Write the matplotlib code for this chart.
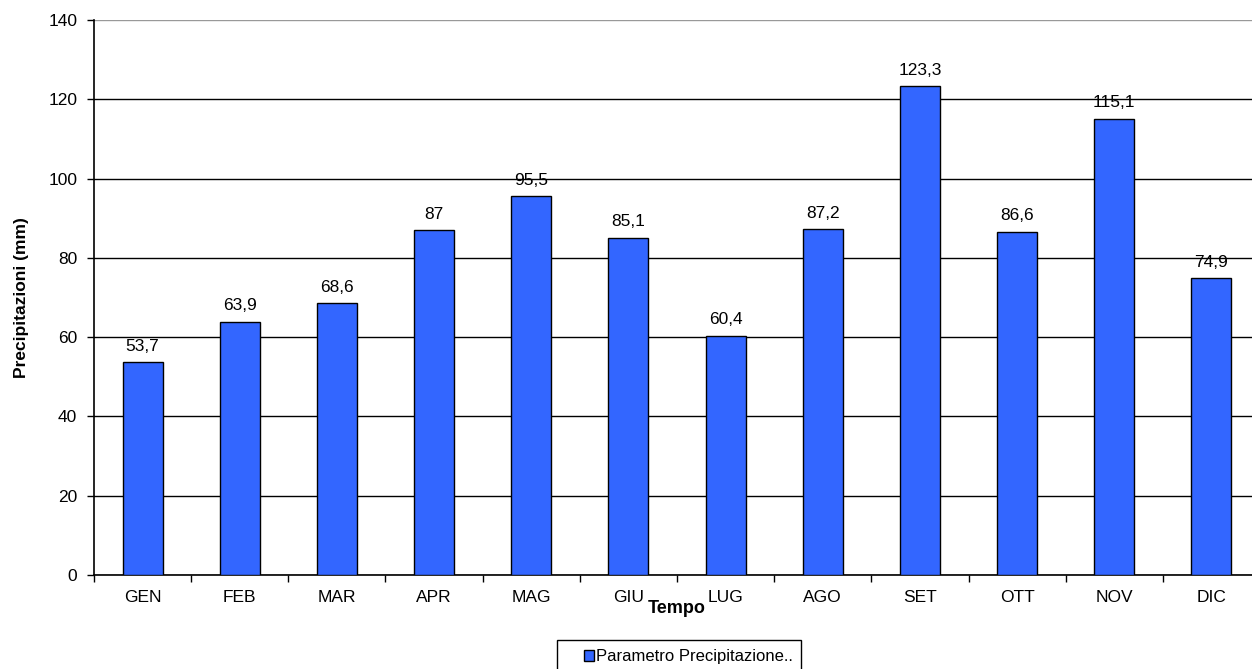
import numpy as np
import matplotlib.pyplot as plt
from matplotlib.patches import Patch, Rectangle

plt.rcParams['font.family'] = ['Liberation Sans', 'DejaVu Sans']

mesi = ['GEN', 'FEB', 'MAR', 'APR', 'MAG', 'GIU', 'LUG', 'AGO', 'SET', 'OTT', 'NOV', 'DIC']
pioggia = [53.7, 63.9, 68.6, 87, 95.5, 85.1, 60.4, 87.2, 123.3, 86.6, 115.1, 74.9]
yticks = [0, 20, 40, 60, 80, 100, 120, 140]

colore = '#3366FF'
W, H = 1252, 669

fig = plt.figure(figsize=(W/100, H/100), dpi=100)
# l'area del grafico continua oltre il bordo destro
ax = fig.add_axes([94/W, 1-575/H, 1166/W, 555/H])

x = np.arange(len(mesi))
ax.bar(x, pioggia, width=0.41, color=colore, edgecolor='black', linewidth=1, zorder=3)

# etichette valori con virgola decimale
for xi, v in zip(x, pioggia):
    s = ('%g' % v).replace('.', ',')
    ax.annotate(s, (xi, v), xytext=(0, 6), textcoords='offset points',
                ha='center', va='bottom', fontsize=12.5)

ax.set_xlim(-0.5, len(mesi) - 0.5)
ax.set_ylim(0, 140)
ax.set_yticks(yticks)
ax.set_yticklabels([str(t) for t in yticks], fontsize=12.5)

# tick tra le categorie, etichette al centro
ax.set_xticks(x)
ax.set_xticklabels(mesi, fontsize=12.5)
ax.set_xticks(np.arange(-0.5, len(mesi), 1), minor=True)
ax.tick_params(axis='x', which='major', length=0, pad=11)
ax.tick_params(axis='x', which='minor', length=5, width=1, direction='out')
ax.tick_params(axis='y', length=5, width=1, direction='out', pad=7)

ax.yaxis.grid(True, color='black', linewidth=1, zorder=0)
ax.set_axisbelow(True)
ax.get_ygridlines()[-1].set_color('#999999')

for s in ['top', 'right']:
    ax.spines[s].set_visible(False)
ax.spines['left'].set_linewidth(1.2)
ax.spines['bottom'].set_linewidth(1.2)

ax.set_ylabel('Precipitazioni (mm)', fontsize=12.5, fontweight='bold', labelpad=14)
ax.set_xlabel('Tempo', fontsize=13, fontweight='bold')
ax.xaxis.set_label_coords(0.5, -0.045)

# riquadro della legenda (tagliato dal bordo inferiore)
fig.patches.append(Rectangle((557/W, -10/H), 244/W, (H-640+10)/H,
                             transform=fig.transFigure,
                             facecolor='white', edgecolor='black', linewidth=1))

handle = Patch(facecolor=colore, edgecolor='black', linewidth=1)
fig.legend([handle], ['Parametro Precipitazione..'], loc='center left',
           bbox_to_anchor=(584/W, 1-657/H), fontsize=12,
           frameon=False, handlelength=0.6, handleheight=0.6, handletextpad=0.1,
           borderpad=0, borderaxespad=0)

fig.savefig('out.png', dpi=100)
